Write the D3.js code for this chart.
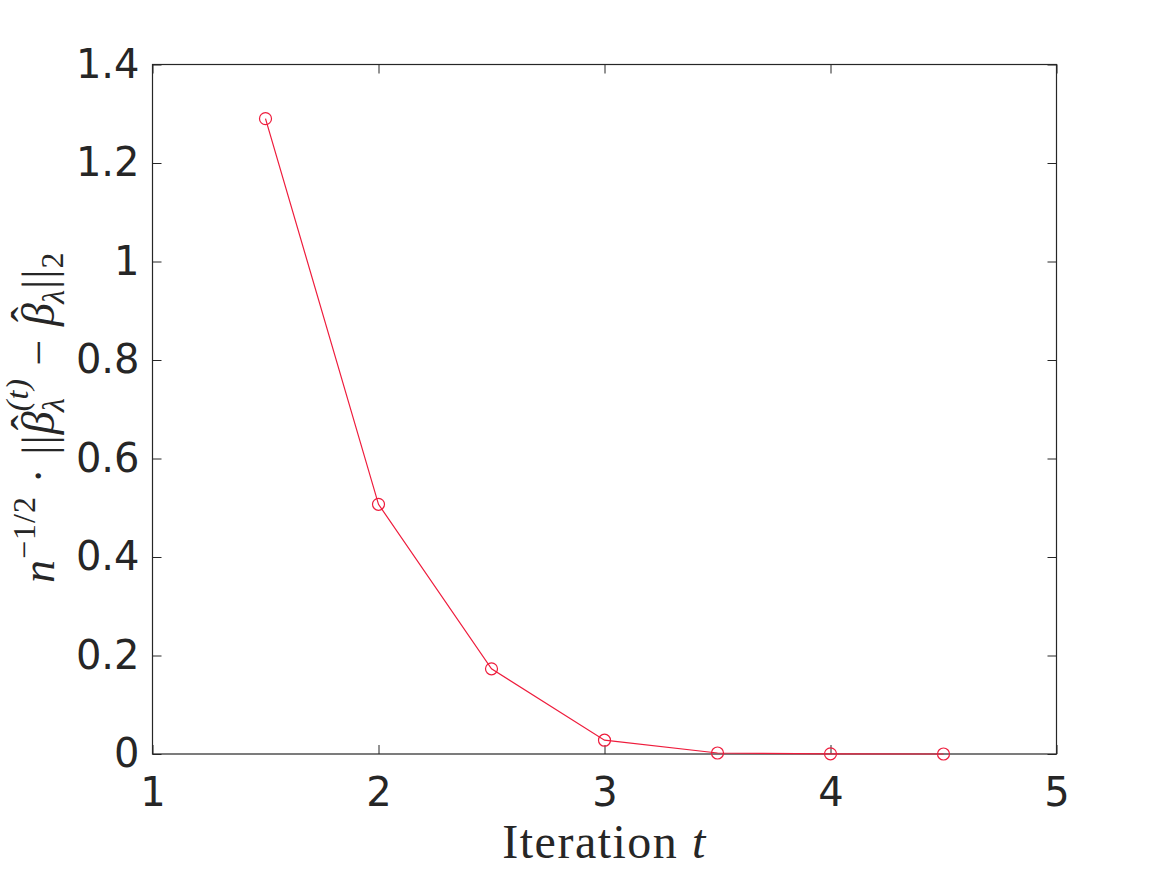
<!DOCTYPE html>
<html><head><meta charset="utf-8">
<script src="https://cdn.jsdelivr.net/npm/d3@7"></script>
<style>body{margin:0;background:#fff}</style>
</head><body>
<svg id="c" width="1167" height="875"></svg>
<script>
const iterations = [1.5, 2, 2.5, 3, 3.5, 4, 4.5];
const errors = [1.29, 0.507, 0.173, 0.028, 0.002, 0.0004, 0.00003];
const xTicks = [1, 2, 3, 4, 5];
const yTicks = [0, 0.2, 0.4, 0.6, 0.8, 1, 1.2, 1.4];
const yTickLabels = ["0", "0.2", "0.4", "0.6", "0.8", "1", "1.2", "1.4"];

const svg = d3.select("#c");
const L = 152.5, R = 1056.5, T = 64.5, B = 754;
const x = d3.scaleLinear().domain([1, 5]).range([L, R]);
const y = d3.scaleLinear().domain([0, 1.4]).range([B, T]);
const lineColor = "#ee1c3c";
const tickLen = 9;

const fontTick = "DejaVu Sans, sans-serif";
const gx = svg.append("g").attr("transform", `translate(0,${B})`)
  .call(d3.axisBottom(x).tickValues(xTicks).tickFormat(d3.format("d")).tickSizeInner(-tickLen).tickSizeOuter(0).tickPadding(24));
const gy = svg.append("g").attr("transform", `translate(${L},0)`)
  .call(d3.axisLeft(y).tickValues(yTicks).tickFormat((d,i)=>yTickLabels[i]).tickSizeInner(-tickLen).tickSizeOuter(0).tickPadding(13));
const gxt = svg.append("g").attr("transform", `translate(0,${T})`)
  .call(d3.axisTop(x).tickValues(xTicks).tickFormat("").tickSizeInner(-tickLen).tickSizeOuter(0));
const gyr = svg.append("g").attr("transform", `translate(${R},0)`)
  .call(d3.axisRight(y).tickValues(yTicks).tickFormat("").tickSizeInner(-tickLen).tickSizeOuter(0));
[gx, gy, gxt, gyr].forEach(g => {
  g.select(".domain").remove();
  g.selectAll("line").attr("stroke", "#262626").attr("stroke-width", 1);
  g.selectAll("text").attr("font-family", fontTick).attr("font-size", 40).attr("fill", "#262626");
});
gx.selectAll("text").attr("dy", "0.71em");

svg.append("rect").attr("x", L).attr("y", T).attr("width", R - L).attr("height", B - T)
  .attr("fill", "none").attr("stroke", "#262626").attr("stroke-width", 1.2);

const pts = iterations.map((d, i) => [d, errors[i]]);
svg.append("path").datum(pts)
  .attr("d", d3.line().x(d => x(d[0])).y(d => y(d[1])))
  .attr("fill", "none").attr("stroke", lineColor).attr("stroke-width", 1.2);
svg.selectAll("circle.m").data(pts).enter().append("circle")
  .attr("cx", d => x(d[0])).attr("cy", d => y(d[1])).attr("r", 6)
  .attr("fill", "none").attr("stroke", lineColor).attr("stroke-width", 1.2);

const serif = "Liberation Serif, Times New Roman, serif";
const xl = svg.append("text").attr("x", (L + R) / 2).attr("y", 858)
  .attr("text-anchor", "middle").attr("font-family", serif).attr("font-size", 48)
  .attr("letter-spacing", 1.5).attr("fill", "#262626");
xl.append("tspan").text("Iteration ");
xl.append("tspan").attr("font-style", "italic").text("t");

const fs = 46, sfs = 32;
const yl = svg.append("text").attr("transform", `translate(54,${(T + B) / 2 + 8}) rotate(-90)`)
  .attr("text-anchor", "middle").attr("font-family", serif).attr("font-size", fs)
  .attr("letter-spacing", 1).attr("fill", "#262626");
yl.append("tspan").attr("font-style", "italic").text("n");
yl.append("tspan").attr("font-size", sfs).attr("dy", -19).text("−1/2");
yl.append("tspan").attr("dy", 19).text(" · ||");
yl.append("tspan").attr("font-style", "italic").text("β");
yl.append("tspan").attr("dx", -20).attr("dy", -10).text("ˆ");
yl.append("tspan").attr("font-style", "italic").attr("font-size", sfs).attr("dx", 2).attr("dy", 20).text("λ");
yl.append("tspan").attr("font-style", "italic").attr("font-size", sfs).attr("dx", -14).attr("dy", -36).text("(t)");
yl.append("tspan").attr("dy", 26).text(" − ");
yl.append("tspan").attr("font-style", "italic").text("β");
yl.append("tspan").attr("dx", -20).attr("dy", -10).text("ˆ");
yl.append("tspan").attr("font-style", "italic").attr("font-size", sfs).attr("dx", 2).attr("dy", 20).text("λ");
yl.append("tspan").attr("dy", -10).text("||");
yl.append("tspan").attr("font-size", sfs).attr("dy", 9).text("2");
</script>
</body></html>
